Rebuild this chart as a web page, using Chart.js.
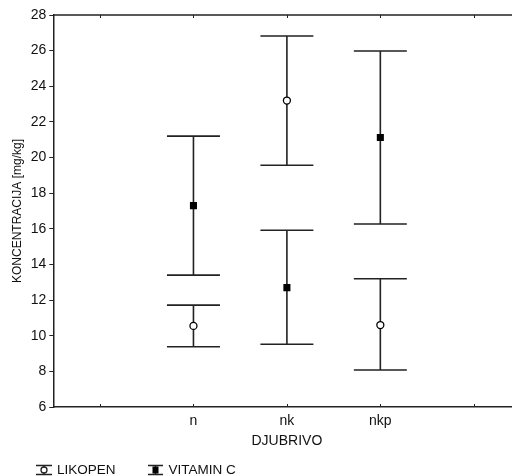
<!DOCTYPE html>
<html>
<head>
<meta charset="utf-8">
<script src="https://cdn.jsdelivr.net/npm/chart.js@4/dist/chart.umd.min.js"></script>
<style>
  html, body { margin: 0; padding: 0; background: #fff; overflow: hidden; }
  #wrap { width: 540px; height: 476px; }
</style>
</head>
<body>
<div id="wrap"><canvas id="myChart"></canvas></div>
<script>
// data
const categories = ['', 'n', 'nk', 'nkp', ''];
const yTicks = [6, 8, 10, 12, 14, 16, 18, 20, 22, 24, 26, 28];

const likopenMean  = [null, 10.55, 23.2, 10.6, null];
const likopenUpper = [null, 11.72, 26.82, 13.2, null];
const likopenLower = [null, 9.38, 19.57, 8.08, null];

const vitaminMean  = [null, 17.3, 12.7, 21.12, null];
const vitaminUpper = [null, 21.2, 15.92, 25.98, null];
const vitaminLower = [null, 13.4, 9.52, 16.27, null];

const font = "'Liberation Sans', Arial, sans-serif";
const lineColor = '#222';

//error bars, frame and legend
const errorBars = {
  id: 'errorBars',
  beforeDatasetsDraw(chart) {
    const {ctx, chartArea, scales: {x, y}} = chart;
    ctx.save();
    ctx.strokeStyle = lineColor;
    ctx.lineWidth = 1.5;

    // top frame line
    ctx.beginPath();
    ctx.moveTo(chartArea.left, chartArea.top);
    ctx.lineTo(chartArea.right, chartArea.top);
    ctx.stroke();

    // inward ticks on x (bottom and top)
    ctx.lineWidth = 1;
    categories.forEach((c, i) => {
      const px = Math.round(x.getPixelForValue(i)) + 0.5;
      ctx.beginPath();
      ctx.moveTo(px, chartArea.bottom);
      ctx.lineTo(px, chartArea.bottom - 3);
      ctx.moveTo(px, chartArea.top);
      ctx.lineTo(px, chartArea.top + 3);
      ctx.stroke();
    });

    // whiskers
    ctx.lineWidth = 1.6;
    const cap = 26.5;
    [[likopenUpper, likopenLower], [vitaminUpper, vitaminLower]].forEach(([up, lo]) => {
      up.forEach((u, i) => {
        if (u === null) return;
        const px = x.getPixelForValue(i);
        const yt = y.getPixelForValue(u);
        const yb = y.getPixelForValue(lo[i]);
        ctx.beginPath();
        ctx.moveTo(px, yt);
        ctx.lineTo(px, yb);
        ctx.moveTo(px - cap, yt);
        ctx.lineTo(px + cap, yt);
        ctx.moveTo(px - cap, yb);
        ctx.lineTo(px + cap, yb);
        ctx.stroke();
      });
    });
    ctx.restore();
  },
  afterDraw(chart) {
    const {ctx} = chart;
    ctx.save();
    ctx.strokeStyle = lineColor;
    ctx.lineWidth = 1.3;
    const cy = 470;
    // LIKOPEN glyph
    ctx.beginPath();
    ctx.moveTo(36, cy - 4.5); ctx.lineTo(52, cy - 4.5);
    ctx.moveTo(36, cy + 4.5); ctx.lineTo(52, cy + 4.5);
    ctx.moveTo(44, cy - 4.5); ctx.lineTo(44, cy + 4.5);
    ctx.stroke();
    ctx.beginPath();
    ctx.arc(44, cy, 3, 0, Math.PI * 2);
    ctx.fillStyle = '#fff';
    ctx.fill();
    ctx.stroke();
    // VITAMIN C glyph
    ctx.beginPath();
    ctx.moveTo(148, cy - 4.5); ctx.lineTo(163, cy - 4.5);
    ctx.moveTo(148, cy + 4.5); ctx.lineTo(163, cy + 4.5);
    ctx.moveTo(155.5, cy - 4.5); ctx.lineTo(155.5, cy + 4.5);
    ctx.stroke();
    ctx.fillStyle = '#000';
    ctx.fillRect(152.5, cy - 3.5, 6, 7);

    ctx.fillStyle = '#111';
    ctx.font = '13.5px ' + font;
    ctx.textBaseline = 'alphabetic';
    ctx.fillText('LIKOPEN', 57, 474);
    ctx.fillText('VITAMIN C', 168.5, 474);
    ctx.restore();
  }
};

const ctx = document.getElementById('myChart');

new Chart(ctx, {
  type: 'line',
  data: {
    labels: categories,
    datasets: [{
      label: 'LIKOPEN',
      data: likopenMean,
      showLine: false,
      pointStyle: 'circle',
      pointRadius: 3.5,
      pointBackgroundColor: '#fff',
      pointBorderColor: '#000',
      pointBorderWidth: 1.3
    }, {
      label: 'VITAMIN C',
      data: vitaminMean,
      showLine: false,
      pointStyle: 'rect',
      pointRadius: 5,
      pointBackgroundColor: '#000',
      pointBorderColor: '#000',
      pointBorderWidth: 0
    }]
  },
  options: {
    responsive: true,
    maintainAspectRatio: false,
    animation: false,
    layout: { padding: { left: 0, top: 15, right: 19.5, bottom: 24 } },
    plugins: {
      legend: { display: false },
      tooltip: { enabled: false }
    },
    scales: {
      x: {
        type: 'category',
        offset: true,
        grid: { display: false, drawTicks: false, offset: false },
        border: { display: true, color: lineColor, width: 1.5 },
        ticks: { color: '#111', font: { family: font, size: 14 }, padding: 5.5, maxRotation: 0, autoSkip: false },
        title: { display: true, text: 'DJUBRIVO', color: '#111', font: { family: font, size: 14 }, padding: { top: 0, bottom: 2 } },
        afterFit(scale) { scale.height = 45; }
      },
      y: {
        min: 6,
        max: 28,
        afterBuildTicks(scale) { scale.ticks = yTicks.map(v => ({ value: v })); },
        grid: { drawOnChartArea: false, drawTicks: true, tickLength: 4, color: lineColor },
        border: { display: true, color: lineColor, width: 1.5 },
        ticks: { color: '#111', font: { family: font, size: 14 }, padding: 3 },
        title: { display: true, text: 'KONCENTRACIJA [mg/kg]', color: '#111', font: { family: font, size: 12 }, padding: { top: 10, bottom: 0 } },
        afterFit(scale) { scale.width = 53.3; }
      }
    }
  },
  plugins: [errorBars]
});
</script>
</body>
</html>
